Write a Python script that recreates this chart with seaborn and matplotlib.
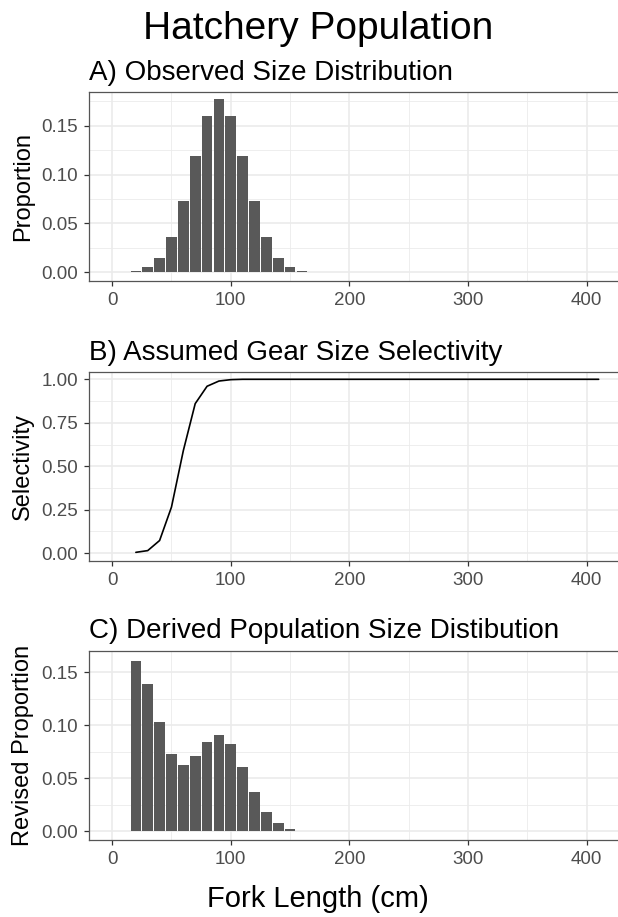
import numpy as np
import pandas as pd
import matplotlib
matplotlib.use("Agg")
import matplotlib.pyplot as plt
import seaborn as sns
from matplotlib.ticker import MultipleLocator, FormatStrFormatter, FixedLocator

# ---- data ----
length_cm = [20, 30, 40, 50, 60, 70, 80, 90, 100, 110, 120, 130, 140, 150, 160, 170]
observed_prop = [0.0012, 0.0054, 0.0146, 0.0364, 0.0735, 0.119, 0.160, 0.177,
                 0.160, 0.119, 0.0735, 0.0364, 0.0146, 0.0054, 0.0015, 0.0005]
revised_prop = [0.161, 0.139, 0.103, 0.073, 0.063, 0.071, 0.084, 0.091,
                0.082, 0.061, 0.037, 0.018, 0.0075, 0.0019, 0.0006, 0.0002]

sel_length = [20, 30, 40, 50, 60, 70, 80, 90, 100, 110, 120, 130, 140, 150,
              160, 170, 180, 190, 200, 210, 220, 230, 240, 250, 260, 270, 280,
              290, 300, 310, 320, 330, 340, 350, 360, 370, 380, 390, 400, 410]
selectivity = [0.005, 0.015, 0.073, 0.265, 0.59, 0.86, 0.96, 0.99, 0.998, 1.0,
               1.0, 1.0, 1.0, 1.0, 1.0, 1.0, 1.0, 1.0, 1.0, 1.0,
               1.0, 1.0, 1.0, 1.0, 1.0, 1.0, 1.0, 1.0, 1.0, 1.0,
               1.0, 1.0, 1.0, 1.0, 1.0, 1.0, 1.0, 1.0, 1.0, 1.0]

x_ticks = [0, 100, 200, 300, 400]

title = "Hatchery Population"
sub_a = "A) Observed Size Distribution"
sub_b = "B) Assumed Gear Size Selectivity"
sub_c = "C) Derived Population Size Distibution"
x_label = "Fork Length (cm)"

df_obs = pd.DataFrame({"length": length_cm, "prop": observed_prop})
df_rev = pd.DataFrame({"length": length_cm, "prop": revised_prop})
df_sel = pd.DataFrame({"length": sel_length, "sel": selectivity})

sns.set_theme(style="white")
plt.rcParams["font.family"] = ["Liberation Sans", "DejaVu Sans"]

W, H = 618, 917
fig = plt.figure(figsize=(W / 100, H / 100), dpi=100)


def add_ax(top, bottom, left=89, right=620):
    return fig.add_axes([left / W, 1 - bottom / H, (right - left) / W, (bottom - top) / H])


GRID = "#EBEBEB"
DARK = "#555555"
TICKLAB = "#4D4D4D"


def style(ax, ymajor, yminor, ylim):
    ax.set_xlim(-19.5, 428)
    ax.set_ylim(*ylim)
    ax.xaxis.set_major_locator(FixedLocator(x_ticks))
    ax.xaxis.set_minor_locator(FixedLocator([50, 150, 250, 350]))
    ax.yaxis.set_major_locator(MultipleLocator(ymajor))
    ax.yaxis.set_minor_locator(MultipleLocator(yminor))
    ax.yaxis.set_major_formatter(FormatStrFormatter("%.2f"))
    ax.set_axisbelow(True)
    ax.grid(True, which="major", color=GRID, lw=1.2)
    ax.grid(True, which="minor", color=GRID, lw=0.6)
    for s in ax.spines.values():
        s.set_color(DARK)
        s.set_linewidth(0.9)
    ax.tick_params(axis="both", which="major", length=3.8, width=0.9, color="#333333",
                   labelsize=13.5, labelcolor=TICKLAB, pad=4,
                   bottom=True, left=True)
    ax.tick_params(axis="both", which="minor", length=0, bottom=False, left=False)
    ax.set_xlabel("")
    ax.set_ylabel("")


# Panel A
axA = add_ax(92, 281)
sns.barplot(data=df_obs, x="length", y="prop", native_scale=True, width=0.9,
            color="#595959", saturation=1, edgecolor="none", ax=axA)
style(axA, 0.05, 0.025, (-0.00885, 0.1845))
axA.set_title(sub_a, loc="left", fontsize=20, pad=9, color="black")

# Panel B
axB = add_ax(372, 561)
sns.lineplot(data=df_sel, x="length", y="sel", color="black", lw=1.2, ax=axB)
style(axB, 0.25, 0.125, (-0.0448, 1.042))
axB.set_title(sub_b, loc="left", fontsize=20, pad=9, color="black")

# Panel C
axC = add_ax(651, 840)
sns.barplot(data=df_rev, x="length", y="prop", native_scale=True, width=0.9,
            color="#595959", saturation=1, edgecolor="none", ax=axC)
style(axC, 0.05, 0.025, (-0.00805, 0.170))
axC.set_title(sub_c, loc="left", fontsize=20, pad=9, color="black")

# Y labels
for ylab, top, bottom in [("Proportion", 92, 281), ("Selectivity", 372, 561),
                          ("Revised Proportion", 651, 840)]:
    fig.text(23 / W, 1 - (top + bottom) / 2 / H, ylab, rotation=90,
             ha="center", va="center", fontsize=17, color="black")

fig.text(318 / W, 1 - 39 / H, title, ha="center", va="baseline", fontsize=28, color="black")
fig.text(318 / W, 1 - 907 / H, x_label, ha="center", va="baseline", fontsize=21, color="black")

fig.savefig("out.png", dpi=100, facecolor="white")
